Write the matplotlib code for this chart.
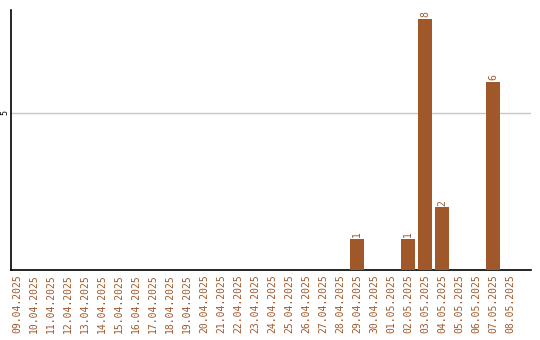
import matplotlib
matplotlib.use("Agg")
import matplotlib.pyplot as plt
import numpy as np

dates = ["09.04.2025", "10.04.2025", "11.04.2025", "12.04.2025", "13.04.2025",
         "14.04.2025", "15.04.2025", "16.04.2025", "17.04.2025", "18.04.2025",
         "19.04.2025", "20.04.2025", "21.04.2025", "22.04.2025", "23.04.2025",
         "24.04.2025", "25.04.2025", "26.04.2025", "27.04.2025", "28.04.2025",
         "29.04.2025", "30.04.2025", "01.05.2025", "02.05.2025", "03.05.2025",
         "04.05.2025", "05.05.2025", "06.05.2025", "07.05.2025", "08.05.2025"]
values = [0, 0, 0, 0, 0, 0, 0, 0, 0, 0,
          0, 0, 0, 0, 0, 0, 0, 0, 0, 0,
          1, 0, 0, 1, 8, 2, 0, 0, 6, 0]

bar_color = "#a0582a"
label_color = "#a0582a"

fig = plt.figure(figsize=(5.4, 3.4), dpi=100)
ax = fig.add_axes([11/540, 70/340, 520/540, 260/340])

x = np.arange(len(dates))
ax.bar(x, values, width=0.82, color=bar_color, zorder=3)
for xi, v in zip(x, values):
    if v > 0:
        ax.text(xi, v + 0.05, str(v), rotation=90, ha="center", va="bottom",
                color=label_color, fontsize=7, family="DejaVu Sans Mono")

ax.set_xlim(-0.35, 30.24)
ax.set_ylim(0, 8.28)
ax.set_xticks(x)
ax.set_xticklabels(dates, rotation=90, color=label_color, fontsize=7,
                   family="DejaVu Sans Mono")
ax.set_yticks([5])
ax.set_yticklabels(["5"], rotation=90, va="center", fontsize=6,
                   family="DejaVu Sans Mono")
ax.tick_params(axis="x", length=0, pad=3)
ax.tick_params(axis="y", length=0, pad=1)
ax.yaxis.grid(True, color="#c8c8c8", linewidth=1, zorder=0)
ax.spines["top"].set_visible(False)
ax.spines["right"].set_visible(False)
ax.spines["left"].set_linewidth(1.2)
ax.spines["bottom"].set_linewidth(1.2)

fig.savefig("out.png", dpi=100)
